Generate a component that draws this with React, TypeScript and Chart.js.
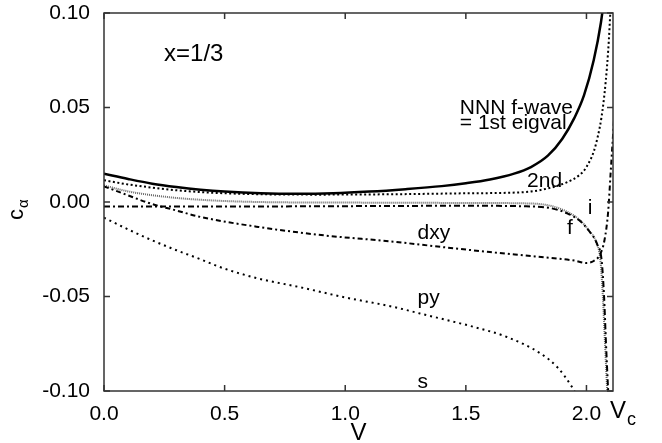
import React, { useEffect, useRef } from "react";
import { Chart, registerables } from "chart.js";
Chart.register(...registerables);

const FONT = '"Liberation Sans", Arial, Helvetica, sans-serif';

const xTicks = [0, 0.5, 1.0, 1.5, 2.0];
const yTicks = [-0.1, -0.05, 0, 0.05, 0.1];
const xMax = 2.11;

// 1st eigenvalue (NNN f-wave), solid
const firstV = [0, 0.1, 0.2, 0.3, 0.4, 0.5, 0.65, 0.8, 0.95, 1.1, 1.25, 1.4, 1.5, 1.6, 1.7, 1.77, 1.84, 1.9, 1.95, 1.99, 2.03, 2.06, 2.075, 2.085];
const firstC = [0.015, 0.0122, 0.0097, 0.0079, 0.0065, 0.0055, 0.0046, 0.0043, 0.0046, 0.0055, 0.0068, 0.0084, 0.0099, 0.0119, 0.015, 0.0185, 0.0245, 0.0335, 0.0445, 0.0565, 0.075, 0.095, 0.11, 0.122];

// 2nd eigenvalue, dotted
const secondV = [0, 0.1, 0.2, 0.3, 0.45, 0.65, 0.9, 1.2, 1.5, 1.75, 1.85, 1.92, 1.97, 2.0, 2.04, 2.07, 2.09, 2.1, 2.105];
const secondC = [0.0115, 0.0093, 0.0076, 0.0062, 0.0049, 0.0041, 0.0039, 0.0041, 0.0046, 0.0053, 0.0075, 0.0105, 0.0142, 0.0185, 0.031, 0.052, 0.08, 0.103, 0.115];

// f, dense dotted
const fV = [0, 0.1, 0.2, 0.35, 0.64, 1.0, 1.5, 1.77, 1.85, 1.92, 1.97, 2.01, 2.04, 2.058, 2.068, 2.077, 2.086, 2.09];
const fC = [0.0088, 0.0056, 0.0036, 0.0016, 0.0, -0.0003, -0.0005, -0.0008, -0.002, -0.0052, -0.0093, -0.015, -0.0212, -0.031, -0.05, -0.075, -0.1, -0.11];

// i, dash-dot
const iV = [0, 0.5, 1.0, 1.5, 1.75, 1.85, 1.92, 1.97, 2.01, 2.045, 2.063, 2.073, 2.081, 2.09, 2.094];
const iC = [-0.0024, -0.0024, -0.0022, -0.002, -0.0023, -0.0032, -0.006, -0.0097, -0.0152, -0.0225, -0.031, -0.05, -0.075, -0.1, -0.11];

// dxy, dash-dot
const dxyV = [0, 0.1, 0.19, 0.3, 0.4, 0.64, 0.9, 1.2, 1.4, 1.6, 1.8, 1.95, 2.0, 2.03, 2.055, 2.075, 2.09, 2.1, 2.115];
const dxyC = [0.0083, 0.0035, -0.0007, -0.0045, -0.0079, -0.0132, -0.0175, -0.021, -0.0238, -0.0265, -0.029, -0.031, -0.0323, -0.0312, -0.028, -0.02, -0.005, 0.015, 0.045];

// py, dotted
const pyV = [0, 0.1, 0.2, 0.3, 0.4, 0.48, 0.64, 0.81, 1.0, 1.2, 1.31, 1.39, 1.53, 1.67, 1.81, 1.88, 1.94, 1.97];
const pyC = [-0.0083, -0.0145, -0.0203, -0.0255, -0.0303, -0.0344, -0.0405, -0.045, -0.0505, -0.0555, -0.059, -0.0615, -0.066, -0.0714, -0.0802, -0.0875, -0.0979, -0.105];

// in-plot annotations (anchored in data coordinates)
const labelTexts = ["x=1/3", "NNN f-wave", "= 1st eigval", "2nd", "i", "f", "dxy", "py", "s"];
const labelV = [0.249, 1.475, 1.475, 1.754, 2.005, 1.919, 1.3, 1.3, 1.3];
const labelC = [0.0746, 0.0468, 0.0388, 0.0079, -0.0061, -0.0171, -0.0197, -0.0541, -0.0986];
const labelSize = [24, 21, 21, 21, 21, 21, 21, 21, 21];

const vcValue = 2.098;

const toPts = (v: number[], c: number[]) => v.map((x, k) => ({ x, y: c[k] }));

const framePlugin = {
  id: "frame",
  afterDatasetsDraw(chart: any) {
    const { ctx, chartArea, scales } = chart;
    const { left, right, top, bottom } = chartArea;
    const x = scales.x;
    const y = scales.y;
    ctx.save();
    ctx.strokeStyle = "#333";
    ctx.lineWidth = 1.5;
    ctx.strokeRect(left, top, right - left, bottom - top);
    const tl = 6;
    ctx.beginPath();
    for (const v of xTicks) {
      const px = x.getPixelForValue(v);
      ctx.moveTo(px, bottom);
      ctx.lineTo(px, bottom - tl);
      ctx.moveTo(px, top);
      ctx.lineTo(px, top + tl);
    }
    for (const v of yTicks) {
      const py = y.getPixelForValue(v);
      ctx.moveTo(left, py);
      ctx.lineTo(left + tl, py);
      ctx.moveTo(right, py);
      ctx.lineTo(right - tl, py);
    }
    ctx.stroke();

    ctx.fillStyle = "#000";
    ctx.textBaseline = "alphabetic";
    ctx.textAlign = "left";
    labelTexts.forEach((t, k) => {
      ctx.font = `${labelSize[k]}px ${FONT}`;
      ctx.fillText(t, x.getPixelForValue(labelV[k]), y.getPixelForValue(labelC[k]));
    });

    // x axis title
    ctx.font = `24px ${FONT}`;
    ctx.textAlign = "center";
    ctx.fillText("V", (left + right) / 2, bottom + 49);

    // V_c marker label
    ctx.textAlign = "left";
    const vx = x.getPixelForValue(vcValue);
    ctx.font = `24px ${FONT}`;
    ctx.fillText("V", vx, bottom + 27);
    const vw = ctx.measureText("V").width;
    ctx.font = `18px ${FONT}`;
    ctx.fillText("c", vx + vw + 1, bottom + 34);

    // y axis title c_alpha (rotated)
    ctx.translate(23, 220);
    ctx.rotate(-Math.PI / 2);
    ctx.font = `22px ${FONT}`;
    ctx.fillText("c", 0, 0);
    const cw = ctx.measureText("c").width;
    ctx.font = `15px ${FONT}`;
    ctx.fillText("\u03b1", cw + 1, 5);
    ctx.restore();
  },
};

export default function App() {
  const ref = useRef<HTMLCanvasElement | null>(null);
  useEffect(() => {
    document.body.style.margin = "0";
    const canvas = ref.current!;
    const mk = (label: string, v: number[], c: number[], color: string, width: number, dash: number[]) => ({
      label,
      data: toPts(v, c),
      borderColor: color,
      borderWidth: width,
      borderDash: dash,
      pointRadius: 0,
      fill: false,
      cubicInterpolationMode: "monotone" as const,
    });
    const chart = new Chart(canvas, {
      type: "line",
      data: {
        datasets: [
          mk("py", pyV, pyC, "#000", 2, [2, 4]),
          mk("dxy", dxyV, dxyC, "#000", 2, [5, 3, 2, 3]),
          mk("i", iV, iC, "#000", 2, [6, 3, 2, 3]),
          mk("f", fV, fC, "#666", 2, [1, 1]),
          mk("2nd", secondV, secondC, "#000", 2, [2, 2.5]),
          mk("1st", firstV, firstC, "#000", 2.5, []),
        ],
      },
      options: {
        animation: false,
        responsive: false,
        devicePixelRatio: 1,
        layout: { padding: { left: 0, top: 13, right: 49, bottom: 0 } },
        plugins: { legend: { display: false }, tooltip: { enabled: false } },
        scales: {
          x: {
            type: "linear",
            min: 0,
            max: xMax,
            grid: { display: false, drawTicks: false },
            border: { display: false },
            afterFit: (s: any) => {
              s.height = 52;
              s.paddingLeft = 0;
              s.paddingRight = 0;
            },
            afterBuildTicks: (s: any) => {
              s.ticks = xTicks.map((v) => ({ value: v }));
            },
            ticks: {
              padding: 11,
              color: "#000",
              font: { family: FONT, size: 21 },
              maxRotation: 0,
              callback: (v: any) => Number(v).toFixed(1),
            },
          },
          y: {
            type: "linear",
            min: -0.1,
            max: 0.1,
            grid: { display: false, drawTicks: false },
            border: { display: false },
            afterFit: (s: any) => {
              s.width = 104;
              s.paddingTop = 0;
              s.paddingBottom = 0;
            },
            afterBuildTicks: (s: any) => {
              s.ticks = yTicks.map((v) => ({ value: v }));
            },
            ticks: {
              padding: 14,
              color: "#000",
              font: { family: FONT, size: 21 },
              callback: (v: any) => Number(v).toFixed(2),
            },
          },
        },
      },
      plugins: [framePlugin],
    });
    return () => chart.destroy();
  }, []);
  return (
    <div style={{ width: 662, height: 443, background: "#fff" }}>
      <canvas ref={ref} width={662} height={443} style={{ display: "block" }} />
    </div>
  );
}
